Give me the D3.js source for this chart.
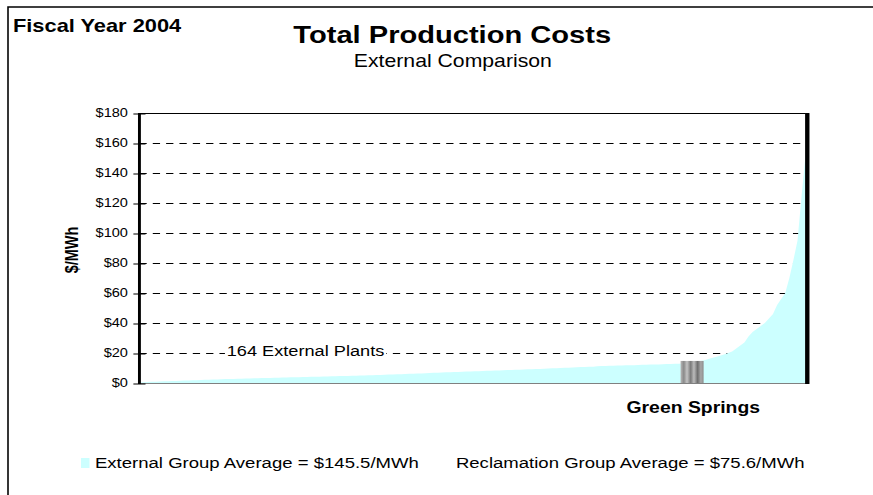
<!doctype html>
<html>
<head>
    <meta charset="utf-8">
    <title>Total Production Costs</title>
    <style>
        body {
            margin: 0;
            padding: 0;
            background: #fff;
        }
        text {
            font-family: "Liberation Sans", Arial, sans-serif;
            fill: #000;
        }
    </style>
</head>
<body>
    <svg id="chart" width="873" height="495"></svg>

    <script src="https://cdn.jsdelivr.net/npm/d3@7/dist/d3.min.js"></script>
    <script>
        // sorted total production cost of the 164 external plants, $/MWh
        var plantCosts = [
            0.3, 0.5, 0.7, 0.8, 0.9, 1.0, 1.1, 1.2, 1.3, 1.4, 1.5, 1.6, 1.7, 1.8, 1.9, 2.0,
            2.1, 2.2, 2.3, 2.4, 2.5, 2.6, 2.6, 2.7, 2.8, 2.9,
            3.0, 3.0, 3.1, 3.2, 3.3, 3.3, 3.4, 3.5, 3.5, 3.6,
            3.7, 3.8, 3.8, 3.9, 4.0, 4.0, 4.1, 4.2, 4.2, 4.3,
            4.4, 4.5, 4.5, 4.6, 4.7, 4.7, 4.8, 4.9, 5.0, 5.0,
            5.1, 5.2, 5.3, 5.4, 5.5, 5.6, 5.7, 5.8, 5.9, 6.0,
            6.1, 6.2, 6.3, 6.4, 6.5, 6.6, 6.8, 6.9,
            7.0, 7.1, 7.2, 7.3, 7.4, 7.5, 7.6, 7.7, 7.8, 7.9,
            8.0, 8.1, 8.2, 8.3, 8.4, 8.5, 8.6, 8.7, 8.8, 8.9,
            9.0, 9.1, 9.2, 9.3, 9.4, 9.5, 9.7, 9.8, 9.9, 10.0,
            10.1, 10.2, 10.3, 10.5, 10.6, 10.7, 10.8, 10.9, 11.1, 11.3,
            11.4, 11.5, 11.5, 11.6, 11.7, 11.8, 11.9, 11.9, 12.0, 12.1,
            12.2, 12.3, 12.3, 12.4, 12.5, 12.6, 12.7, 12.8, 12.9, 13.0,
            13.4, 13.8, 14.2, 14.6, 15.0,
            15.8, 16.6, 17.4, 18.2, 19.0, 20.0, 21.0,
            23, 25, 27,
            31, 34, 36, 38,
            40, 43, 46,
            52, 56, 60, 70, 82, 95, 125, 153
        ];

        var greenSprings = { name: "Green Springs", index: 135.2, cost: 14.7 };

        var yTicks = [0, 20, 40, 60, 80, 100, 120, 140, 160, 180];

        var titleText = "Total Production Costs",
            subtitleText = "External Comparison",
            cornerText = "Fiscal Year 2004",
            plantsLabel = plantCosts.length + " External Plants",
            legendItems = ["External Group Average = $145.5/MWh", "Reclamation Group Average = $75.6/MWh"];

        // the original is a 720 wide slide stretched to 873, so draw in 720 units
        var svg = d3.select("#chart")
            .attr("viewBox", "0 0 720 495")
            .attr("preserveAspectRatio", "none");

        var plot = {left: 115, right: 664.5, top: 113, bottom: 383};

        var x = d3.scaleLinear()
            .domain([0, plantCosts.length - 1])
            .range([plot.left, plot.right]);

        var y = d3.scaleLinear()
            .domain([0, 180])
            .range([plot.bottom, plot.top]);

        // outer frame (only top and left edges fall inside the picture)
        svg.append("path")
            .attr("d", "M6.6,495 V7 H720")
            .attr("fill", "none")
            .attr("stroke", "#000")
            .attr("stroke-width", 1.3);

        var defs = svg.append("defs");
        var grad = defs.append("linearGradient")
            .attr("id", "gsGrad")
            .attr("x1", "0%").attr("x2", "100%")
            .attr("y1", "0%").attr("y2", "0%");
        [["0%", "#b8b8b8"], ["14%", "#8a8a8a"], ["28%", "#c4c4c4"], ["44%", "#7a7a7a"],
         ["58%", "#bcbcbc"], ["74%", "#6e6e6e"], ["88%", "#a8a8a8"], ["100%", "#8c8c8c"]]
            .forEach(function(s) {
                grad.append("stop").attr("offset", s[0]).attr("stop-color", s[1]);
            });

        // gridlines
        svg.append("g")
            .selectAll("line")
            .data(yTicks.filter(function(d) { return d > 0 && d < 180; }))
            .enter().append("line")
            .attr("x1", plot.left)
            .attr("x2", plot.right)
            .attr("y1", function(d) { return y(d) + 0.5; })
            .attr("y2", function(d) { return y(d) + 0.5; })
            .attr("stroke", "#000")
            .attr("stroke-width", 1)
            .attr("stroke-dasharray", "6,5");

        // top border of plot area
        svg.append("line")
            .attr("x1", plot.left).attr("x2", plot.right)
            .attr("y1", y(180) + 0.5).attr("y2", y(180) + 0.5)
            .attr("stroke", "#000")
            .attr("stroke-width", 1);

        // area of plant costs
        var area = d3.area()
            .x(function(d, i) { return x(i); })
            .y0(y(0))
            .y1(function(d) { return y(d); });

        svg.append("path")
            .datum(plantCosts)
            .attr("d", area)
            .attr("fill", "#ccffff");

        // Green Springs column
        svg.append("rect")
            .attr("x", x(greenSprings.index) - 9.5)
            .attr("width", 19)
            .attr("y", y(greenSprings.cost))
            .attr("height", y(0) - y(greenSprings.cost))
            .attr("fill", "url(#gsGrad)");

        // bottom axis line
        svg.append("line")
            .attr("x1", plot.left).attr("x2", plot.right)
            .attr("y1", y(0) + 0.5).attr("y2", y(0) + 0.5)
            .attr("stroke", "#808080")
            .attr("stroke-width", 1);

        // left value axis
        var yAxis = svg.append("g")
            .attr("transform", "translate(" + plot.left + ",0)")
            .call(d3.axisLeft(y)
                .tickValues(yTicks)
                .tickSizeInner(-5)
                .tickSizeOuter(0)
                .tickPadding(9)
                .tickFormat(function(d) { return "$" + d; }));

        yAxis.select(".domain").remove();
        yAxis.selectAll(".tick line")
            .attr("x1", -5)
            .attr("x2", 5)
            .attr("y1", 0.5)
            .attr("y2", 0.5)
            .attr("stroke", "#000")
            .attr("stroke-width", 1);
        yAxis.selectAll(".tick text")
            .attr("x", -9.5)
            .style("font-size", "12px")
            .style("font-family", "'Liberation Sans', Arial, sans-serif");

        svg.append("line")
            .attr("x1", plot.left).attr("x2", plot.left)
            .attr("y1", y(180)).attr("y2", y(0) + 1)
            .attr("stroke", "#000")
            .attr("stroke-width", 2.4);

        // right edge
        svg.append("line")
            .attr("x1", plot.right + 1.3).attr("x2", plot.right + 1.3)
            .attr("y1", y(180)).attr("y2", y(0) + 1)
            .attr("stroke", "#000")
            .attr("stroke-width", 3.6);

        svg.append("text")
            .attr("transform", "translate(59.5," + ((plot.top + plot.bottom) / 2 + 2) + ") rotate(-90)")
            .attr("text-anchor", "middle")
            .attr("dy", "0.35em")
            .style("font-size", "14.5px")
            .style("font-weight", "bold")
            .text("$/MWh");

        // titles
        svg.append("text")
            .attr("x", 373)
            .attr("y", 43)
            .attr("text-anchor", "middle")
            .style("font-size", "24px")
            .style("font-weight", "bold")
            .text(titleText);

        svg.append("text")
            .attr("x", 373.5)
            .attr("y", 67)
            .attr("text-anchor", "middle")
            .style("font-size", "17.5px")
            .text(subtitleText);

        svg.append("text")
            .attr("x", 10.7)
            .attr("y", 32)
            .style("font-size", "18px")
            .style("font-weight", "bold")
            .text(cornerText);

        // plant count label with white backing over the gridline
        var plantsBack = svg.append("rect")
            .attr("fill", "#fff");
        var plantsText = svg.append("text")
            .attr("x", 187)
            .attr("y", 356)
            .style("font-size", "15px")
            .text(plantsLabel);
        var bb = plantsText.node().getBBox();
        plantsBack
            .attr("x", bb.x - 1.5)
            .attr("y", bb.y + 2)
            .attr("width", bb.width + 3)
            .attr("height", bb.height - 4);

        svg.append("text")
            .attr("x", x(greenSprings.index) + 1)
            .attr("y", 413)
            .attr("text-anchor", "middle")
            .style("font-size", "16px")
            .style("font-weight", "bold")
            .text(greenSprings.name);

        // legend
        svg.append("rect")
            .attr("x", 66.8)
            .attr("y", 458)
            .attr("width", 7)
            .attr("height", 10)
            .attr("fill", "#ccffff");

        svg.append("text")
            .attr("x", 78.3)
            .attr("y", 468.5)
            .style("font-size", "15.3px")
            .text(legendItems[0]);

        svg.append("text")
            .attr("x", 376)
            .attr("y", 468.5)
            .style("font-size", "15.3px")
            .text(legendItems[1]);
    </script>
</body>
</html>
